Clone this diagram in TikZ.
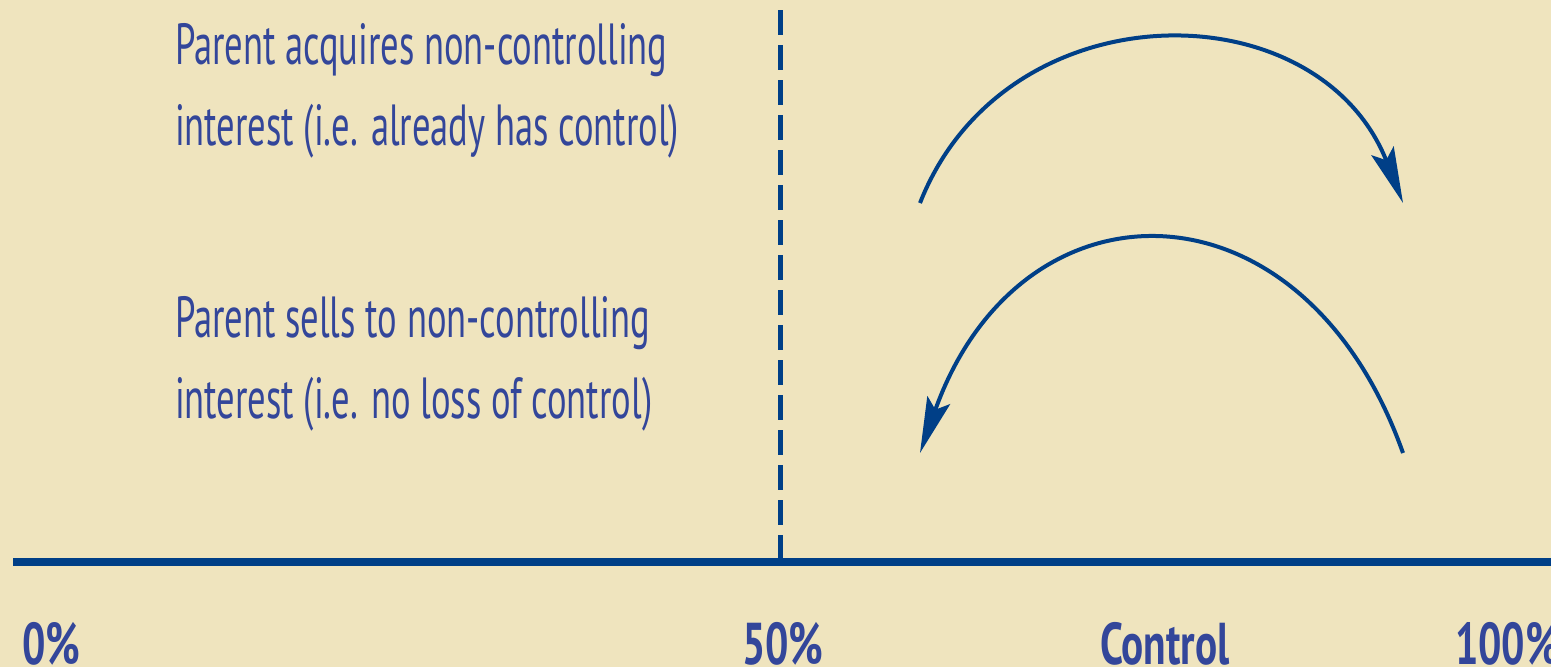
\documentclass[tikz,border=0pt]{standalone}
\usepackage{fontspec}
\setmainfont{PT Sans}[FakeStretch=0.63]
\newfontfamily\axfont{PT Sans Bold}[FakeStretch=0.7]
\usetikzlibrary{arrows.meta}
\definecolor{bg}{HTML}{EFE4BE}
\definecolor{ln}{HTML}{003F87}
\definecolor{tx}{HTML}{33469A}
\begin{document}
\begin{tikzpicture}[x=1pt,y=-1pt,
  lbl/.style={inner sep=0pt,outer sep=0pt,text=tx,align=left,font=\fontsize{58}{81}\selectfont},
  axlbl/.style={inner sep=0pt,outer sep=0pt,text=tx,font=\fontsize{59}{70}\axfont},
  arcline/.style={draw=ln,line width=4pt,-{Stealth[length=56pt,width=24pt,inset=10pt]}}
]
\fill[bg] (0,0) rectangle (1551,667);
\useasboundingbox (0,0) rectangle (1551,667);
% coordinates
\coordinate (axl) at (13,562);
\coordinate (axr) at (1551,562);
\coordinate (dtop) at (780,10);
\coordinate (dbot) at (780,562);
\coordinate (a1s) at (920,203);
\coordinate (a1e) at (1403,203);
\coordinate (a2s) at (1403,453);
\coordinate (a2e) at (920,453);
% lines
\draw[ln,line width=5pt,dash pattern=on 25pt off 10pt] (dtop) -- (dbot);
\draw[ln,line width=8pt] (axl) -- (axr);
\draw[arcline] (a1s) .. controls (1005,-13) and (1318,-13) .. (a1e);
\draw[arcline] (a2s) .. controls (1303,171) and (1020,171) .. (a2e);
% texts
\node[lbl,anchor=base west] (t1) at (175,145) {Parent acquires non-controlling\\interest (i.e. already has control)};
\node[lbl,anchor=base west] (t2) at (175,418) {Parent sells to non-controlling\\interest (i.e. no loss of control)};
\node[axlbl,anchor=base west] (l0) at (22,664) {0\%};
\node[axlbl,anchor=base west] (l50) at (742,664) {50\%};
\node[axlbl,anchor=base west] (lc) at (1100,664) {Control};
\node[axlbl,anchor=base west] (l100) at (1455,664) {100\%};
\end{tikzpicture}
\end{document}
